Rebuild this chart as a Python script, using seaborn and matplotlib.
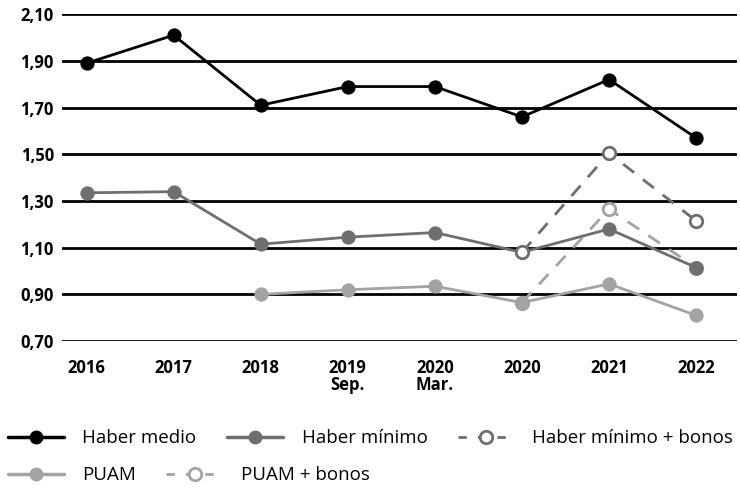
import pandas as pd
import seaborn as sns
import numpy as np
import matplotlib
matplotlib.use('Agg')
import matplotlib.pyplot as plt
from matplotlib.lines import Line2D

# data
categories = ['2016', '2017', '2018', '2019\nSep.', '2020\nMar.', '2020', '2021', '2022']
haber_medio = [1.89, 2.01, 1.71, 1.79, 1.79, 1.66, 1.82, 1.57]
haber_minimo = [1.335, 1.34, 1.115, 1.145, 1.165, 1.08, 1.18, 1.015]
haber_minimo_bonos = [np.nan, np.nan, np.nan, np.nan, np.nan, 1.08, 1.505, 1.215]
puam = [np.nan, np.nan, 0.90, 0.92, 0.935, 0.865, 0.945, 0.81]
puam_bonos = [np.nan, np.nan, np.nan, np.nan, np.nan, 0.865, 1.265, 1.015]
yticks = [0.70, 0.90, 1.10, 1.30, 1.50, 1.70, 1.90, 2.10]

sns.set_style('white')
plt.rcParams['font.family'] = ['Open Sans', 'DejaVu Sans']
plt.rcParams['text.color'] = 'black'
plt.rcParams['xtick.color'] = 'black'
plt.rcParams['ytick.color'] = 'black'

df = pd.DataFrame({
    'pos': np.arange(len(categories)),
    'Haber medio': haber_medio,
    'Haber mínimo': haber_minimo,
    'Haber mínimo + bonos': haber_minimo_bonos,
    'PUAM': puam,
    'PUAM + bonos': puam_bonos,
})

dark = '#000000'
mid = '#6e6e6e'
light = '#a3a3a3'

fig = plt.figure(figsize=(7.4, 4.88), dpi=100)
ax = fig.add_axes([0.084, 0.301, 0.912, 0.670])

for y in yticks:
    ax.axhline(y, color='black', lw=2, zorder=0)

def draw(col, color, dashed=False, z=2):
    d = df.dropna(subset=[col])
    if dashed:
        sns.lineplot(data=d, x='pos', y=col, ax=ax, color=color, lw=2,
                     linestyle=(0, (5, 4)), marker='o', markersize=9,
                     markerfacecolor='white', markeredgecolor=color,
                     markeredgewidth=2, zorder=z)
    else:
        sns.lineplot(data=d, x='pos', y=col, ax=ax, color=color, lw=2,
                     marker='o', markersize=9.5, markeredgecolor=color,
                     zorder=z)

draw('PUAM + bonos', light, dashed=True, z=2)
draw('PUAM', light, z=3)
draw('Haber mínimo', mid, z=4)
draw('Haber mínimo + bonos', mid, dashed=True, z=5)
draw('Haber medio', dark, z=6)

ax.set_xlim(-0.28, 7.47)
ax.set_ylim(0.70, 2.10)
ax.set_xticks(range(len(categories)))
ax.set_xticklabels(categories, fontweight='bold', fontsize=12, linespacing=0.9)
ax.set_yticks(yticks)
ax.set_yticklabels([f'{v:.2f}'.replace('.', ',') for v in yticks],
                   fontweight='bold', fontsize=12)
ax.tick_params(axis='y', length=0, pad=6)
ax.tick_params(axis='x', length=0, pad=13)
ax.set_xlabel('')
ax.set_ylabel('')
for s in ax.spines.values():
    s.set_visible(False)

def handle(color, dashed=False):
    if dashed:
        return Line2D([], [], color=color, lw=2, linestyle=(0, (3, 4)),
                      marker='o', markersize=9, markerfacecolor='white',
                      markeredgecolor=color, markeredgewidth=2)
    return Line2D([], [], color=color, lw=2.5, marker='o', markersize=9)

row1 = [handle(dark), handle(mid), handle(mid, True)]
row2 = [handle(light), handle(light, True)]
leg1 = fig.legend(row1, ['Haber medio', 'Haber mínimo', 'Haber mínimo + bonos'],
                  loc='center left', bbox_to_anchor=(0.0, 0.102), ncol=3,
                  frameon=False, fontsize=13.5, handlelength=3.0,
                  columnspacing=1.6, handletextpad=1.0, borderaxespad=0)
leg2 = fig.legend(row2, ['PUAM', 'PUAM + bonos'],
                  loc='center left', bbox_to_anchor=(0.0, 0.026), ncol=2,
                  frameon=False, fontsize=13.5, handlelength=3.0,
                  columnspacing=1.6, handletextpad=1.0, borderaxespad=0)

fig.savefig('out.png', dpi=100)
